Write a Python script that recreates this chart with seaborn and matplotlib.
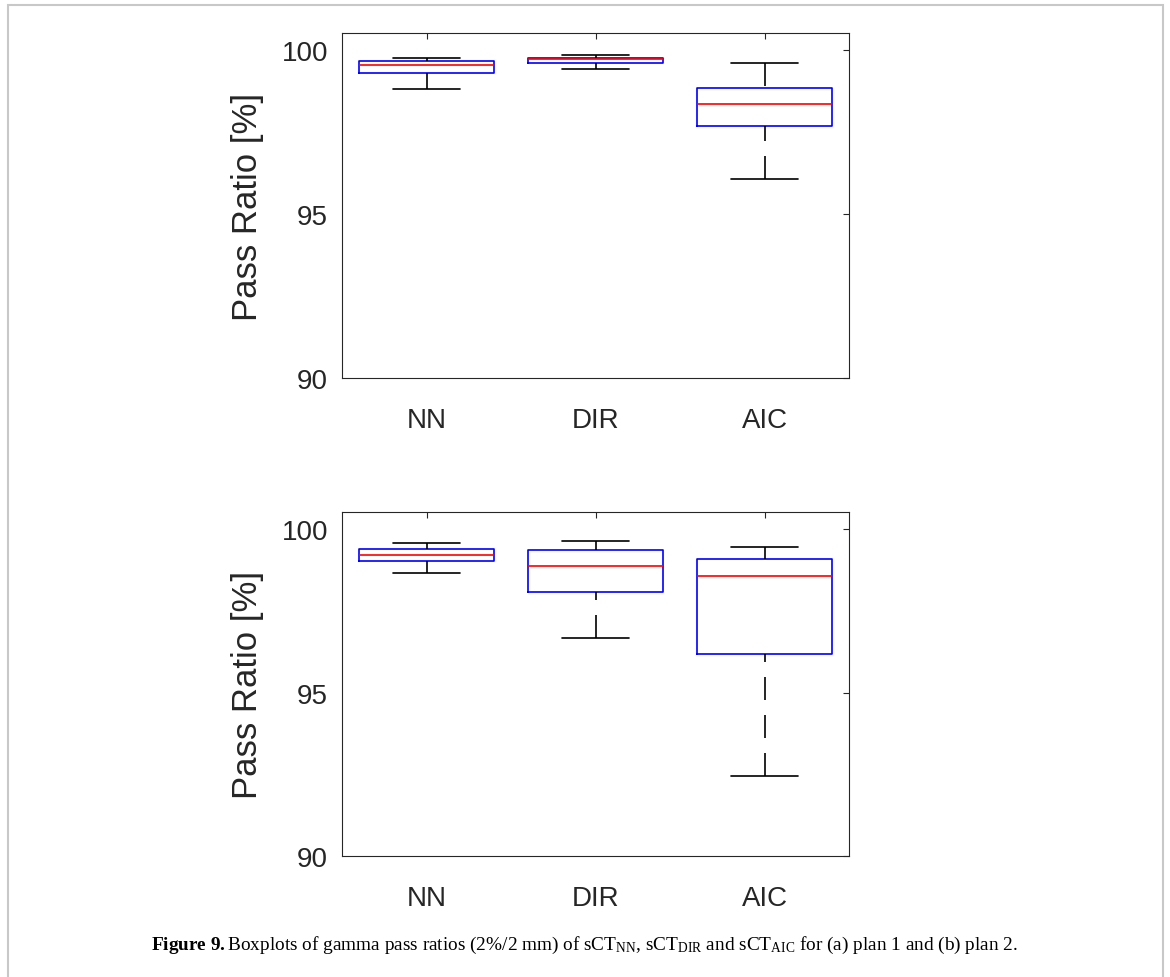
import numpy as np
import pandas as pd
import matplotlib
matplotlib.use("Agg")
import matplotlib.pyplot as plt
from matplotlib.patches import Rectangle
import seaborn as sns

# ---- data (five-number summaries: lower whisker, Q1, median, Q3, upper whisker)
methods = ["NN", "DIR", "AIC"]
plan1_nn = [98.82, 99.29, 99.55, 99.67, 99.75]
plan1_dir = [99.43, 99.62, 99.72, 99.77, 99.85]
plan1_aic = [96.08, 97.69, 98.36, 98.83, 99.62]
plan2_nn = [98.64, 99.02, 99.21, 99.38, 99.57]
plan2_dir = [96.66, 98.06, 98.88, 99.36, 99.63]
plan2_aic = [92.45, 96.18, 98.57, 99.08, 99.44]
yticks = [90, 95, 100]
ylabel = "Pass Ratio [%]"
caption = (r"$\mathbf{Figure\ 9.}$Boxplots of gamma pass ratios (2%/2 mm) of "
           r"sCT$_{\mathrm{NN}}$, sCT$_{\mathrm{DIR}}$ and sCT$_{\mathrm{AIC}}$ "
           r"for (a) plan 1 and (b) plan 2.")


def make_df(nn, dr, aic):
    rows = []
    for m, vals in zip(methods, [nn, dr, aic]):
        for v in vals:
            rows.append({"method": m, "value": v})
    return pd.DataFrame(rows)


sns.set_style("white")
plt.rcParams["font.family"] = ["Liberation Sans", "DejaVu Sans"]
plt.rcParams["mathtext.fontset"] = "custom"
plt.rcParams["mathtext.rm"] = "Liberation Serif"
plt.rcParams["mathtext.it"] = "Liberation Serif:italic"
plt.rcParams["mathtext.bf"] = "Liberation Serif:bold"

W, H = 1170, 978
fig = plt.figure(figsize=(W / 100, H / 100), dpi=100)
fig.patch.set_facecolor("white")

axes_px = [(342, 34, 849, 379), (342, 513, 849, 857)]
datasets = [make_df(plan1_nn, plan1_dir, plan1_aic),
            make_df(plan2_nn, plan2_dir, plan2_aic)]

dark = "#262626"
for (l, t, r, b), df in zip(axes_px, datasets):
    ax = fig.add_axes([l / W, 1 - b / H, (r - l) / W, (b - t) / H])
    sns.boxplot(data=df, x="method", y="value", order=methods, ax=ax,
                fill=False, width=0.8, whis=np.inf, linewidth=1.2,
                boxprops=dict(color="#0000ff"),
                medianprops=dict(color="#ff0000"),
                whiskerprops=dict(color="black", linestyle=(0, (13.8, 9.0))),
                capprops=dict(color="black"),
                showfliers=False)
    # MATLAB draws the dashed whisker starting from its end
    for ln in ax.lines:
        if ln.get_linestyle() not in ("-", "None"):
            xd, yd = ln.get_data()
            ln.set_data(np.asarray(xd)[::-1], np.asarray(yd)[::-1])
    ax.set_xlim(-0.5, 2.5)
    ax.set_ylim(90, 100.52)
    ax.set_yticks(yticks)
    ax.set_yticklabels([str(v) for v in yticks])
    ax.set_xlabel("")
    ax.set_ylabel(ylabel, fontsize=25, color=dark, labelpad=13)
    ax.tick_params(direction="in", top=True, right=True, length=4.5, width=0.8,
                   colors=dark, labelsize=20)
    ax.tick_params(axis="y", pad=10)
    ax.tick_params(axis="x", pad=21)
    for s in ax.spines.values():
        s.set_visible(True)
        s.set_color(dark)
        s.set_linewidth(0.8)

fig.text(0.5, 1 - 950 / H, caption, ha="center", va="baseline",
         fontsize=13.9, family="Liberation Serif", color="black")

frame = Rectangle((7.5 / W, -0.1), (1163 - 7.5) / W, 1.1 - 5.5 / H,
                  transform=fig.transFigure, fill=False, edgecolor="#c8c8c8",
                  linewidth=1.5, clip_on=False)
fig.add_artist(frame)

fig.savefig("out.png", dpi=100, facecolor="white")
